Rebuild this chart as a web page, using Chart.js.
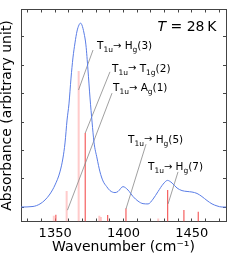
<!DOCTYPE html>
<html>
<head>
<meta charset="utf-8">
<script src="https://cdn.jsdelivr.net/npm/chart.js@4"></script>
<style>
html,body{margin:0;padding:0;background:#fff;}
</style>
</head>
<body>
<canvas id="c" width="240" height="258"></canvas>
<script>
/* spectrum (blue line) */
const specX = [1325,1333.8,1338.9,1342.6,1346.2,1349.9,1353.5,1355.7,1357.2,1358.7,1360.1,1361.6,1363.0,1364.5,1366.0,1367.4,1368.5,1369.6,1371.1,1372.5,1374.0,1375.5,1377.0,1378.4,1380.6,1382.8,1385.0,1387.7,1390.1,1393.8,1396.0,1399.6,1403.3,1407.0,1410.6,1414.3,1418.0,1421.6,1425.3,1429.0,1432.2,1435.5,1439.2,1442.8,1446.5,1450.1,1453.8,1457.4,1461.1,1464.8,1468.4,1472.1,1475];
const specY = [0,0.02,0.11,0.25,0.46,0.78,1.24,1.73,2.26,3.07,3.64,4.55,5.26,5.79,6.21,6.42,6.49,6.42,6.14,5.72,4.84,3.85,3.00,2.29,1.73,1.24,0.92,0.72,0.58,0.51,0.55,0.72,0.60,0.37,0.21,0.12,0.11,0.28,0.55,0.81,0.94,0.85,0.67,0.58,0.55,0.53,0.48,0.37,0.23,0.11,0.04,0,0];

/* calculated modes (sticks) */
const strongX = [1350.5,1372.0,1388.4,1401.8,1432.3,1444.2,1454.7];
const strongTop = [-0.27,2.61,-0.28,-0.05,0.60,-0.10,-0.17];
const lightX = [1349.0,1358.4,1367.2,1382.3,1383.5,1425.4];
const lightTop = [-0.31,0.57,4.80,-0.31,-0.35,-0.40];

/* assignments */
const labelText = ['T_{1u}→ H_{g}(3)','T_{1u}→ T_{1g}(2)','T_{1u}→ A_{g}(1)','T_{1u}→ H_{g}(5)','T_{1u}→ H_{g}(7)'];
const labelX = [1380.6,1391.6,1392.3,1403.3,1417.9];
const labelY = [5.56,4.78,4.08,2.26,1.29];
const leadX0 = [1377.7,1390.1,1391.6,1416.5,1439.9];
const leadY0 = [5.54,4.77,4.02,2.22,1.24];
const leadX1 = [1367.1,1372.0,1359.0,1401.8,1432.6];
const leadY1 = [4.13,2.61,-0.11,-0.07,0.11];

const xTicks = [1330,1340,1350,1360,1370,1380,1390,1400,1410,1420,1430,1440,1450,1460,1470];
const yTicks = [0,1,2,3,4,5,6];
const xMin = 1325, xMax = 1475, yMin = -0.51, yMax = 6.97;

const frame = '#444';

/* ---- datasets ---- */
const datasets = [];
datasets.push({
    type:'line',
    data: specX.map((x,i)=>({x:x, y:specY[i]})),
    borderColor:'rgb(90,125,230)',
    borderWidth:1,
    pointRadius:0,
    cubicInterpolationMode:'monotone',
    order:0
});
datasets.push({
    type:'bar',
    data: lightX.map((x,i)=>({x:x, y:[yMin, lightTop[i]]})),
    backgroundColor:'rgba(255,140,140,0.45)',
    barThickness:2,
    inflateAmount:0,
    stack:'s',
    order:3
});
datasets.push({
    type:'bar',
    data: strongX.map((x,i)=>({x:x, y:[yMin, strongTop[i]]})),
    backgroundColor:'rgb(245,95,95)',
    barThickness:1.2,
    inflateAmount:0,
    stack:'s',
    order:2
});
labelText.forEach((t,i)=>{
    datasets.push({
        type:'line',
        data:[{x:leadX0[i], y:leadY0[i]},{x:leadX1[i], y:leadY1[i]}],
        borderColor:'#888',
        borderWidth:0.8,
        pointRadius:0,
        order:1
    });
});

/* ---- text labels ---- */
function drawRich(ctx, text, x, y){
    const parts = text.split(/_\{([^}]*)\}/);
    let cx = x;
    parts.forEach((p,k)=>{
        if(!p) return;
        const sub = k % 2 === 1;
        if(sub){
            ctx.font = '7.5px "DejaVu Sans"';
            ctx.fillText(p, cx, y + 3);
            cx += ctx.measureText(p).width;
        } else {
            for(const ch of p){
                ctx.font = ch === '→' ? '10px "DejaVu Sans"' : '10.5px "DejaVu Sans"';
                ctx.fillText(ch, cx, ch === '→' ? y - 0.5 : y);
                cx += ctx.measureText(ch).width;
            }
        }
    });
}

const labelPlugin = {
    id:'labels',
    afterDatasetsDraw(chart){
        const ctx = chart.ctx;
        const xs = chart.scales.x, ys = chart.scales.y;
        ctx.save();
        ctx.fillStyle = '#000';
        ctx.textBaseline = 'alphabetic';
        ctx.textAlign = 'left';
        labelText.forEach((t,i)=>{
            drawRich(ctx, t, xs.getPixelForValue(labelX[i]), ys.getPixelForValue(labelY[i]));
        });

        // T = 28 K, right aligned
        const rx = xs.getPixelForValue(1468.0), by = ys.getPixelForValue(6.21);
        ctx.font = '14px "DejaVu Sans"';
        const rest = ' = 28\u2009K';
        const wr = ctx.measureText(rest).width;
        ctx.font = 'italic 14px "DejaVu Sans"';
        const wt = ctx.measureText('T').width;
        ctx.fillText('T', rx - wr - wt, by);
        ctx.font = '14px "DejaVu Sans"';
        ctx.fillText(rest, rx - wr, by);
        ctx.restore();
    }
};

const setTicks = vals => s => { s.ticks = vals.map(v=>({value:v})); };

const gridOpts = {drawOnChartArea:false, drawTicks:true, tickLength:-3, color:frame, offset:false};

new Chart(document.getElementById('c'), {
    type:'line',
    data:{datasets:datasets},
    options:{
        responsive:false,
        animation:false,
        events:[],
        layout:{padding:{top:9.5, right:14, left:0, bottom:0}},
        plugins:{legend:{display:false}, tooltip:{enabled:false}},
        scales:{
            x:{
                type:'linear', position:'bottom', min:xMin, max:xMax, offset:false,
                afterBuildTicks:setTicks(xTicks),
                afterFit:s=>{ s.height = 36.5; },
                grid:gridOpts,
                border:{display:true, color:frame, width:1},
                ticks:{
                    autoSkip:false, maxRotation:0, padding:7, color:'#000',
                    font:{family:'DejaVu Sans', size:13},
                    callback:v => (v % 50 === 0 ? String(v) : '')
                },
                title:{display:true, text:'Wavenumber (cm\u207B\u00B9)', color:'#000',
                    font:{family:'DejaVu Sans', size:14}, padding:{top:0, bottom:2}}
            },
            x2:{
                type:'linear', position:'top', min:xMin, max:xMax, offset:false,
                afterBuildTicks:setTicks(xTicks),
                afterFit:s=>{ s.height = 0; },
                grid:gridOpts,
                border:{display:true, color:frame, width:1},
                ticks:{display:false}
            },
            y:{
                type:'linear', position:'left', min:yMin, max:yMax, stacked:false,
                afterBuildTicks:setTicks(yTicks),
                afterFit:s=>{ s.width = 21; },
                grid:gridOpts,
                border:{display:true, color:frame, width:1},
                ticks:{display:false},
                title:{display:true, text:'Absorbance (arbitrary unit)', color:'#000',
                    font:{family:'DejaVu Sans', size:14, lineHeight:1.1}, padding:{top:0, bottom:0}}
            },
            y2:{
                type:'linear', position:'right', min:yMin, max:yMax,
                afterBuildTicks:setTicks(yTicks),
                afterFit:s=>{ s.width = 0; },
                grid:gridOpts,
                border:{display:true, color:frame, width:1},
                ticks:{display:false}
            }
        }
    },
    plugins:[labelPlugin]
});
</script>
</body>
</html>
